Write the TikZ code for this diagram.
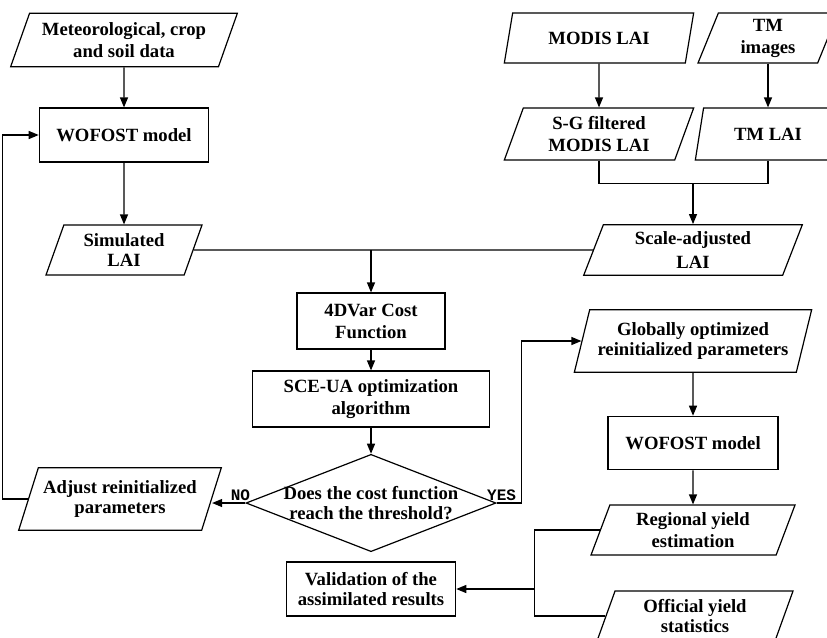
\documentclass[tikz,border=0pt]{standalone}
\usepackage{fontspec}
\setmainfont{Liberation Serif}
\newfontfamily\answerfont{Liberation Mono}
\usetikzlibrary{shapes.geometric, arrows.meta, positioning, calc}

\begin{document}
\begin{tikzpicture}[x=0.75pt, y=-0.75pt,
		box/.style={draw, line width=0.9pt, inner sep=2pt, align=center, font=\bfseries\fontsize{14}{16.5}\selectfont},
		tight/.style={font=\bfseries\fontsize{14}{15}\selectfont},
		proc/.style={box, rectangle},
		io/.style={box, trapezium, trapezium left angle=65, trapezium right angle=115, trapezium stretches body=true, inner xsep=0pt},
		decision/.style={draw, line width=0.9pt, diamond, inner sep=0pt, minimum width=187.5pt, minimum height=73pt},
		arr/.style={line width=0.9pt, -{Triangle[length=7.5pt, width=6pt]}},
		link/.style={line width=0.9pt},
		answer/.style={font=\answerfont\bfseries\fontsize{12}{12}\selectfont, inner sep=1pt}]
	\useasboundingbox (0,0) rectangle (827,637);
	
	% Crop model
	\node[io, minimum width=170pt, minimum height=40pt] (meteo) at (124,40) {Meteorological, crop\\and soil data};
	\node[proc, minimum width=127pt, minimum height=40.5pt] (wofost) at (124,135) {WOFOST model};
	\node[io, tight, minimum width=117pt, minimum height=37.5pt] (sim) at (124,250) {Simulated\\LAI};
	
	% Remote sensing
	\node[io, minimum width=142pt, minimum height=37.5pt] (modis) at (599,38) {MODIS LAI};
	\node[io, minimum width=105pt, minimum height=37.5pt] (tmimg) at (768,38) {TM\\images};
	\node[io, minimum width=142pt, minimum height=39pt] (sg) at (599,134) {S-G filtered\\MODIS LAI};
	\node[io, minimum width=109pt, minimum height=39pt] (tmlai) at (768,134) {TM LAI};
	\node[io, font=\bfseries\fontsize{14}{18}\selectfont, minimum width=164pt, minimum height=38pt] (scale) at (693,250) {Scale-adjusted\\LAI};
	
	% Assimilation
	\node[proc, minimum width=111pt, minimum height=42pt] (cost) at (371,321) {4DVar Cost\\Function};
	\node[proc, minimum width=178pt, minimum height=42pt] (sce) at (371,399) {SCE-UA optimization\\algorithm};
	\node[decision, label={[align=center, font=\bfseries\fontsize{14}{15}\selectfont]center:Does the cost function\\reach the threshold?}] (check) at (371,503) {};
	\node[io, tight, minimum width=152pt, minimum height=47pt] (adjust) at (120,499) {Adjust reinitialized\\parameters};
	\node[io, tight, trapezium left angle=70, trapezium right angle=110, minimum width=178pt, minimum height=47pt] (glob) at (693,341) {Globally optimized\\reinitialized parameters};
	
	% Yield
	\node[proc, minimum width=127.5pt, minimum height=40pt] (wofostb) at (693,443) {WOFOST model};
	\node[io, minimum width=153pt, minimum height=37.5pt] (region) at (693,530) {Regional yield\\estimation};
	\node[io, tight, minimum width=147pt, minimum height=37.5pt] (official) at (695,616) {Official yield\\statistics};
	\node[proc, tight, minimum width=127pt, minimum height=40.5pt] (valid) at (371,589) {Validation of the\\assimilated results};
	
	% Connectors
	\draw[arr] (meteo) -- (wofost);
	\draw[arr] (wofost) -- (sim);
	\draw[arr] (modis) -- (sg);
	\draw[arr] (tmimg.south) -- (tmimg.south |- tmlai.north);
	\draw[link] (sg.south) -- ++(0,23) coordinate (merge) -| (tmlai.south);
	\draw[arr] (merge -| scale.north) -- (scale.north);
	\draw[link] (sim.east) -- (scale.west);
	\draw[arr] (cost.north |- sim.east) -- (cost.north);
	\draw[arr] (cost) -- (sce);
	\draw[arr] (sce) -- (check);
	\draw[arr] (check.west) -- node[answer, above, pos=0.15] {NO} (check.west -| adjust.east);
	\draw[arr] (adjust.west) -- ++(-25,0) |- (wofost.west);
	\draw[arr] (check.east) -- node[answer, above, pos=0.2] {YES} ++(25,0) |- (glob.west);
	\draw[arr] (glob) -- (wofostb);
	\draw[arr] (wofostb) -- (region);
	\draw[link] (region.west) -- ++(-65,0) coordinate (fork) |- (official.west);
	\draw[arr] (fork |- valid.east) -- (valid.east);
\end{tikzpicture}
\end{document}
